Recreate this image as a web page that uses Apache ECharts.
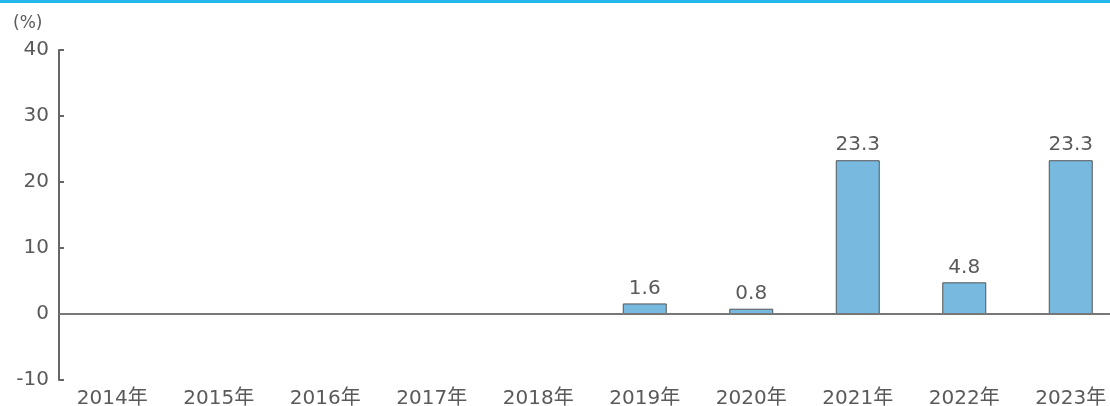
<!DOCTYPE html>
<html lang="ja">
<head>
    <meta charset="UTF-8">
    <title>Chart</title>
    <style>
        html, body { margin: 0; padding: 0; background: #fff; }
        #main { width: 1110px; height: 406px; }
    </style>
</head>
<script type="text/javascript" src="https://cdn.jsdelivr.net/npm/echarts@6/dist/echarts.min.js"></script>
<body>
<div id="main"></div>
</body>
<script type="text/javascript">
    // 年次
    var years = ['2014年', '2015年', '2016年', '2017年', '2018年', '2019年', '2020年', '2021年', '2022年', '2023年'];
    // 値 (%)、データなしは null
    var values = [null, null, null, null, null, 1.6, 0.8, 23.3, 4.8, 23.3];
    // y軸
    var yMin = -10;
    var yMax = 40;
    var yStep = 10;

    var textColor = '#5a5a5a';
    var fontFamily = '"DejaVu Sans", "Noto Sans CJK JP", sans-serif';

    var myChart = echarts.init(document.getElementById('main'));
    var option = {
        animation: false,
        textStyle: { fontFamily: fontFamily },
        graphic: [{
            type: 'rect',
            left: 0,
            top: 0,
            shape: { width: 1110, height: 3 },
            style: { fill: '#22b8ee' },
            silent: true
        }, {
            type: 'text',
            left: 13,
            top: 15,
            style: { text: '(%)', fill: textColor, fontSize: 17, fontFamily: fontFamily },
            silent: true
        }],
        grid: {
            left: 59,
            top: 50,
            right: -14,
            height: 330,
            outerBoundsMode: 'none'
        },
        xAxis: {
            type: 'category',
            data: years,
            axisLine: { show: false, onZero: false },
            axisTick: { show: false },
            axisLabel: { color: textColor, fontSize: 20, margin: 9 }
        },
        yAxis: {
            type: 'value',
            min: yMin,
            max: yMax,
            interval: yStep,
            splitLine: { show: false },
            axisLine: { show: true, lineStyle: { color: '#666', width: 2 } },
            axisTick: { show: true, inside: true, length: 5, lineStyle: { color: '#666', width: 2 } },
            axisLabel: { color: textColor, fontSize: 20, margin: 10 }
        },
        series: [{
            type: 'bar',
            data: values,
            barWidth: 44,
            itemStyle: { color: '#78b9df', borderColor: '#555', borderWidth: 1 },
            label: {
                show: true,
                position: 'top',
                distance: 5,
                color: textColor,
                fontSize: 20
            },
            markLine: {
                silent: true,
                symbol: 'none',
                label: { show: false },
                lineStyle: { color: '#777', width: 2, type: 'solid' },
                data: [{ yAxis: 0 }]
            }
        }]
    };
    myChart.setOption(option);
</script>
</html>
